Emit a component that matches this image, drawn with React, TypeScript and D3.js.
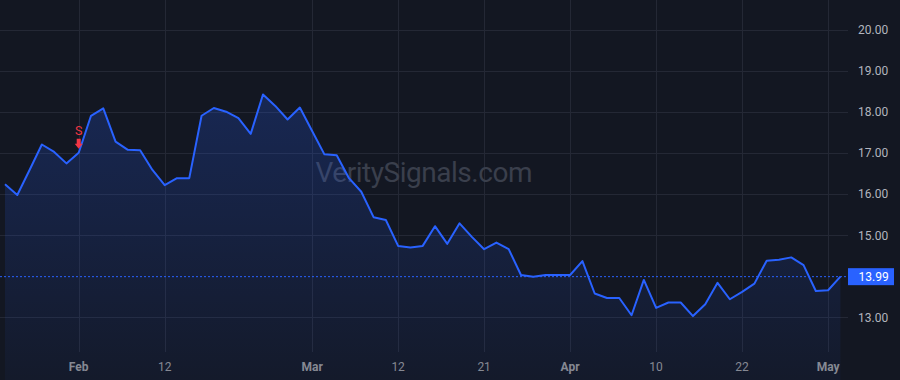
import React from "react";
import * as d3 from "d3";

const prices: number[] = [
  16.24, 15.98, 16.59, 17.21, 17.03, 16.75, 17.01, 17.91, 18.09, 17.28,
  17.08, 17.07, 16.59, 16.22, 16.39, 16.39, 17.91, 18.1, 18.01, 17.85,
  17.47, 18.43, 18.15, 17.82, 18.11, 17.54, 16.97, 16.95, 16.39, 16.06,
  15.44, 15.37, 14.74, 14.7, 14.74, 15.22, 14.79, 15.29, 14.96, 14.66,
  14.82, 14.66, 14.03, 13.99, 14.03, 14.03, 14.03, 14.37, 13.58, 13.47,
  13.47, 13.05, 13.91, 13.23, 13.36, 13.36, 13.03, 13.32, 13.84, 13.44,
  13.62, 13.82, 14.38, 14.4, 14.46, 14.27, 13.64, 13.66, 13.99,
];

const timeTickIndex: number[] = [6, 13, 25, 32, 39, 46, 53, 60, 67];
const timeTickLabels: string[] = ["Feb", "12", "Mar", "12", "21", "Apr", "10", "22", "May"];
const timeTickBold: boolean[] = [true, false, true, false, false, true, false, false, true];

const priceTicks: number[] = [13, 15, 16, 17, 18, 19, 20];

const signalIndex: number[] = [6];
const signalLabels: string[] = ["S"];

const lastPriceLabel = "13.99";
const watermark = "VeritySignals.com";

const W = 900;
const H = 380;
const PLOT_R = 848;
const PLOT_B = 352;
const FONT = "Roboto, 'Liberation Sans', Arial, sans-serif";

export default function App() {
  const x = d3.scaleLinear().domain([0, prices.length - 1]).range([5, 840.4]);
  const y = d3.scaleLinear().domain([13, 20]).range([317.3, 30]);

  const line = d3
    .line<number>()
    .x((_, i) => x(i))
    .y((d) => y(d));
  const area = d3
    .area<number>()
    .x((_, i) => x(i))
    .y0(H)
    .y1((d) => y(d));

  const last = prices[prices.length - 1];
  const lastY = y(last);

  return (
    <div style={{ position: "fixed", left: 0, top: 0, width: W, height: H }}>
      <svg width={W} height={H} style={{ display: "block" }} fontFamily={FONT}>
        <defs>
          <linearGradient id="areaGrad" x1="0" y1="0" x2="0" y2={H} gradientUnits="userSpaceOnUse">
            <stop offset="0" stopColor="rgb(41,98,255)" stopOpacity={0.28} />
            <stop offset="1" stopColor="rgb(41,98,255)" stopOpacity={0.04} />
          </linearGradient>
        </defs>
        <rect x={0} y={0} width={W} height={H} fill="#131722" />

        {/* grid */}
        {timeTickIndex.map((ti, k) => (
          <line key={"vg" + k} x1={Math.round(x(ti)) + 0.5} x2={Math.round(x(ti)) + 0.5} y1={0} y2={PLOT_B} stroke="#242835" strokeWidth={1} />
        ))}
        {priceTicks.map((p, k) => (
          <line key={"hg" + k} x1={0} x2={PLOT_R} y1={Math.round(y(p)) + 0.5} y2={Math.round(y(p)) + 0.5} stroke="#242835" strokeWidth={1} />
        ))}

        {/* watermark */}
        <text x={424} y={182} textAnchor="middle" fontSize={28} fill="#3a3f4c" textLength={217} lengthAdjust="spacing">
          {watermark}
        </text>

        {/* area + line */}
        <path d={area(prices) || ""} fill="url(#areaGrad)" />
        <path d={line(prices) || ""} fill="none" stroke="#2962ff" strokeWidth={2} strokeLinejoin="round" />

        {/* last price dashed line */}
        <line x1={0} x2={PLOT_R} y1={lastY} y2={lastY} stroke="#2962ff" strokeWidth={1} strokeDasharray="2 2" />

        {/* signal markers */}
        {signalIndex.map((si, k) => {
          const cx = x(si);
          const py = y(prices[si]);
          const tip = py - 4;
          return (
            <g key={"sig" + k} fill="#f23645">
              <path d={`M${cx - 2},${tip - 10} L${cx + 2},${tip - 10} L${cx + 2},${tip - 5} L${cx + 4},${tip - 5} L${cx},${tip} L${cx - 4},${tip - 5} L${cx - 2},${tip - 5} Z`} />
              <text x={cx} y={tip - 14} textAnchor="middle" fontSize={12.5}>
                {signalLabels[k]}
              </text>
            </g>
          );
        })}

        {/* price axis labels */}
        {priceTicks.map((p, k) => (
          <text key={"pl" + k} x={858} y={y(p) + 4.3} fontSize={12} fill="#b2b5be">
            {p.toFixed(2)}
          </text>
        ))}

        {/* last price label */}
        <rect x={PLOT_R} y={lastY - 8.5} width={46} height={17} fill="#2962ff" />
        <text x={858.5} y={lastY + 4.3} fontSize={12} fill="#ffffff">
          {lastPriceLabel}
        </text>

        {/* time axis labels */}
        {timeTickIndex.map((ti, k) => (
          <text key={"tl" + k} x={x(ti)} y={371} textAnchor="middle" fontSize={12} fontWeight={timeTickBold[k] ? 700 : 400} fill="#868993">
            {timeTickLabels[k]}
          </text>
        ))}
      </svg>
    </div>
  );
}
